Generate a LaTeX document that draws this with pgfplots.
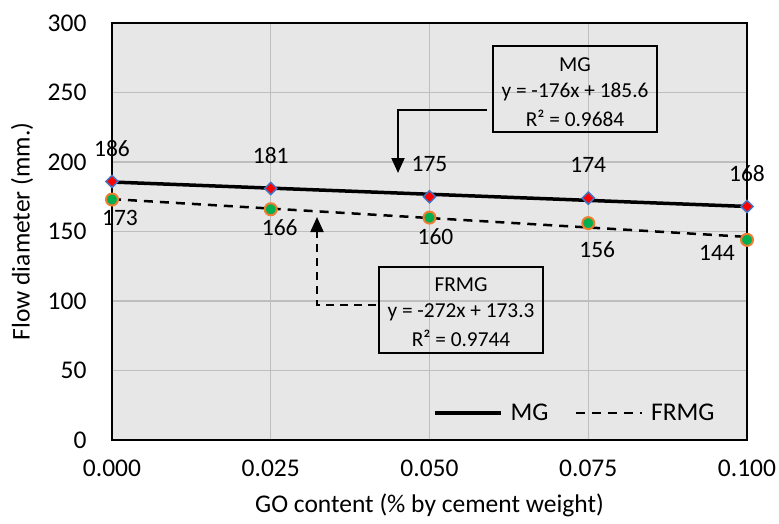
\documentclass[border=0pt]{standalone}
\usepackage{fontspec}
\setmainfont{Carlito}
\usepackage{pgfplots}
\pgfplotsset{compat=1.18}
\usetikzlibrary{arrows.meta}

\definecolor{plotbg}{RGB}{231,231,231}
\definecolor{gridc}{RGB}{190,190,190}
\definecolor{mgfill}{RGB}{255,0,0}
\definecolor{mgedge}{RGB}{68,114,196}
\definecolor{frfill}{RGB}{0,176,80}
\definecolor{fredge}{RGB}{237,125,49}

\newcommand{\bigfont}{\fontsize{25.5}{30}\selectfont}
\newcommand{\lblfont}{\fontsize{23.5}{28}\selectfont}
\newcommand{\boxfont}{\fontsize{21.3}{25}\selectfont}

\begin{document}
\begin{tikzpicture}[font=\bigfont]
\path[use as bounding box] (-112pt,-83pt) rectangle (667pt,440pt);
\begin{axis}[
  at={(0pt,0pt)}, anchor=south west,
  scale only axis, width=635pt, height=417pt,
  xmin=0, xmax=0.1, ymin=0, ymax=300,
  xtick={0,0.025,0.05,0.075,0.1},
  xticklabels={0.000,0.025,0.050,0.075,0.100},
  ytick={0,50,100,150,200,250,300},
  /pgf/number format/assume math mode=true,
  tick label style={font=\bigfont},
  label style={font=\bigfont},
  major tick length=0pt,
  grid=major,
  major grid style={draw=gridc, line width=1.2pt},
  axis background/.style={fill=plotbg},
  axis line style={black, line width=1.5pt},
  xticklabel style={yshift=-16pt},
  yticklabel style={xshift=-22pt},
  xlabel={GO content (\% by cement weight)},
  ylabel={Flow diameter (mm.)},
  xlabel style={at={(axis description cs:0.5,-0.156)}, anchor=center},
  ylabel style={at={(axis description cs:-0.1417,0.5)}, anchor=center},
  clip=false,
  legend columns=2,
  legend style={draw=none, fill=none, inner sep=0pt, font=\bigfont,
    at={(0.5055,0.0647)}, anchor=west,
    nodes={inner sep=0pt},
    /tikz/every odd column/.append style={column sep=8pt},
    /tikz/every even column/.append style={column sep=26pt}},
  legend image code/.code={\draw[#1] (0pt,0pt) -- (66pt,0pt);},
]
% measured points
\addplot[only marks, mark=square*, mark size=4.3pt,
  mark options={rotate=45, fill=mgfill, draw=mgedge, line width=1.5pt}, forget plot]
  coordinates {(0,186) (0.025,181) (0.05,175) (0.075,174) (0.1,168)};
\addplot[only marks, mark=*, mark size=6pt,
  mark options={fill=frfill, draw=fredge, line width=2pt}, forget plot]
  coordinates {(0,173) (0.025,166) (0.05,160) (0.075,156) (0.1,144)};
% linear trend lines
\addplot[black, line width=3.5pt] coordinates {(0,185.6) (0.1,168.0)};
\addlegendentry{MG}
\addplot[black, line width=2.5pt, dash pattern=on 9pt off 7pt] coordinates {(0,173.3) (0.1,146.1)};
\addlegendentry{FRMG}
% data labels
\begin{scope}[every node/.style={font=\lblfont}]
\node[yshift=33pt] at (axis cs:0,186) {186};
\node[yshift=33pt] at (axis cs:0.025,181) {181};
\node[yshift=33pt] at (axis cs:0.05,175) {175};
\node[yshift=33pt] at (axis cs:0.075,174) {174};
\node[yshift=33pt] at (axis cs:0.1,168) {168};
\node[xshift=8pt, yshift=-18pt] at (axis cs:0,173) {173};
\node[xshift=9pt, yshift=-18pt] at (axis cs:0.025,166) {166};
\node[xshift=6pt, yshift=-19pt] at (axis cs:0.05,160) {160};
\node[xshift=9pt, yshift=-26pt] at (axis cs:0.075,156) {156};
\node[xshift=-30pt, yshift=-13pt] at (axis cs:0.1,144) {144};
\end{scope}
\end{axis}
% trend line equation boxes
\begin{scope}[every node/.style={font=\boxfont}]
\draw[black, line width=1.5pt] (381pt,308pt) rectangle (545pt,394pt);
\node at (463pt,375pt) {MG};
\node at (463pt,348pt) {y = -176x + 185.6};
\node at (463pt,322pt) {R² = 0.9684};
\draw[black, line width=2pt, -{Triangle[length=15pt,width=13pt]}]
  (375pt,330pt) -- (286pt,330pt) -- (286pt,267pt);
\draw[black, line width=1.5pt] (267pt,87pt) rectangle (431pt,173pt);
\node at (349pt,155pt) {FRMG};
\node at (349pt,128pt) {y = -272x + 173.3};
\node at (349pt,102pt) {R² = 0.9744};
\draw[black, line width=2pt, dash pattern=on 8pt off 6pt, -{Triangle[length=15pt,width=13pt]}]
  (264pt,135pt) -- (205pt,135pt) -- (205pt,223pt);
\end{scope}
\end{tikzpicture}
\end{document}
